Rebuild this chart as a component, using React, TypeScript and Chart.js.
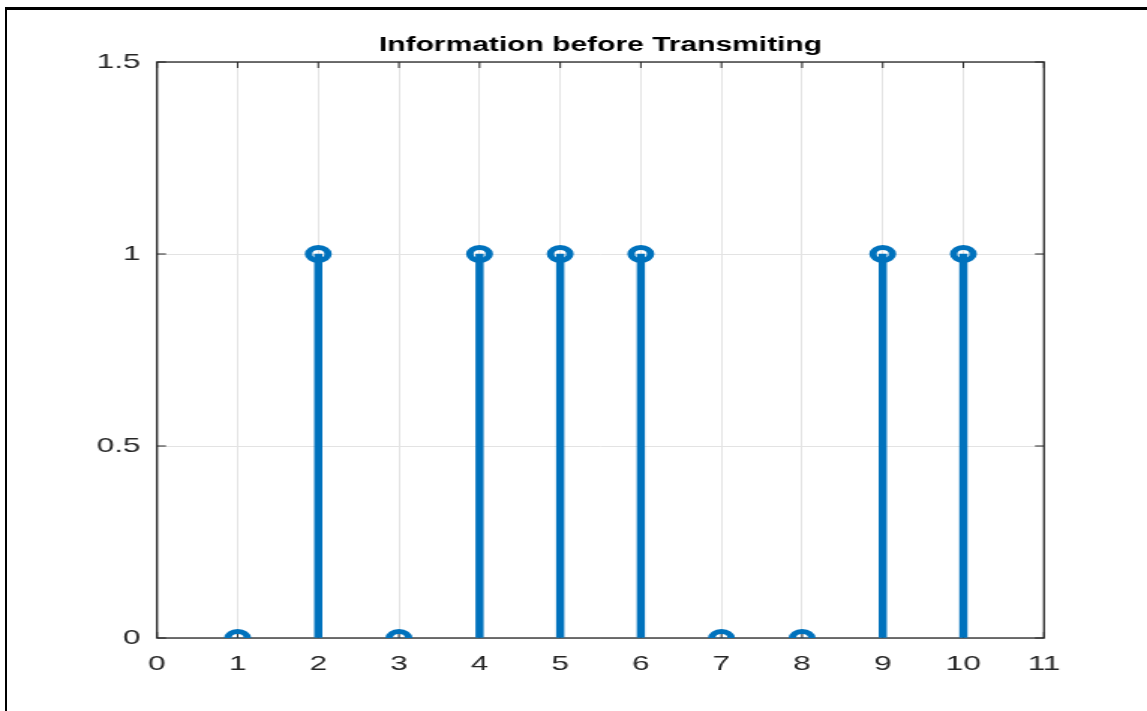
import React, { useEffect, useRef } from 'react';
import { Chart, registerables } from 'chart.js';

Chart.register(...registerables);

// ---- data ----
const sampleIndex = [1, 2, 3, 4, 5, 6, 7, 8, 9, 10];
const bitValues = [0, 1, 0, 1, 1, 1, 0, 0, 1, 1];
const xTickValues = [0, 1, 2, 3, 4, 5, 6, 7, 8, 9, 10, 11];
const xTickLabels = ['0', '1', '2', '3', '4', '5', '6', '7', '8', '9', '10', '11'];
const yTickValues = [0, 0.5, 1, 1.5];
const yTickLabels = ['0', '0.5', '1', '1.5'];
const titleText = 'Information before Transmiting';

// ---- layout ----
const CANVAS_W = 765;
const CANVAS_H = 711;
const STRETCH = 1147 / CANVAS_W;
const FONT = '"Liberation Sans", Arial, Helvetica, sans-serif';
const STEM_COLOR = '#0072BD';
const AXIS_COLOR = '#262626';

const boxPlugin = {
  id: 'matlabBox',
  beforeDatasetsDraw(chart: any) {
    const { ctx, chartArea: a, scales } = chart;
    ctx.save();
    ctx.strokeStyle = AXIS_COLOR;
    ctx.lineWidth = 1;
    ctx.beginPath();
    scales.x.ticks.forEach((t: any) => {
      const px = scales.x.getPixelForValue(t.value);
      ctx.moveTo(px, a.bottom);
      ctx.lineTo(px, a.bottom - 6);
      ctx.moveTo(px, a.top);
      ctx.lineTo(px, a.top + 6);
    });
    scales.y.ticks.forEach((t: any) => {
      const py = scales.y.getPixelForValue(t.value);
      ctx.moveTo(a.left, py);
      ctx.lineTo(a.left + 6, py);
      ctx.moveTo(a.right, py);
      ctx.lineTo(a.right - 6, py);
    });
    ctx.stroke();
    ctx.lineWidth = 1.3;
    ctx.strokeRect(a.left, a.top, a.right - a.left, a.bottom - a.top);
    ctx.restore();
  },
};

export default function App() {
  const canvasRef = useRef<HTMLCanvasElement | null>(null);

  useEffect(() => {
    if (!canvasRef.current) return;
    const points = sampleIndex.map((x, i) => ({ x, y: bitValues[i] }));
    const chart = new Chart(canvasRef.current, {
      type: 'scatter',
      data: {
        datasets: [
          {
            type: 'scatter',
            data: points,
            order: 0,
            pointStyle: 'circle',
            pointRadius: 6.5,
            pointBorderWidth: 5,
            pointBorderColor: STEM_COLOR,
            pointBackgroundColor: 'rgba(0,0,0,0)',
            pointHoverRadius: 6.5,
          } as any,
          {
            type: 'bar',
            data: points,
            order: 1,
            backgroundColor: STEM_COLOR,
            borderWidth: 0,
            barThickness: 4.8,
          } as any,
        ],
      },
      plugins: [boxPlugin],
      options: {
        animation: false,
        responsive: false,
        devicePixelRatio: 1,
        layout: { padding: { left: 0, right: CANVAS_W - 1044 / STRETCH, top: 0, bottom: 0 } },
        plugins: {
          legend: { display: false },
          tooltip: { enabled: false },
          title: {
            display: true,
            text: titleText,
            fullSize: false,
            color: '#000000',
            font: { family: FONT, size: 20, weight: 'bold', lineHeight: 1.2 },
            padding: { top: 33, bottom: 5 },
          },
        },
        scales: {
          x: {
            type: 'linear',
            min: 0,
            max: 11,
            offset: false,
            afterBuildTicks: (scale: any) => {
              scale.ticks = xTickValues.map((v) => ({ value: v }));
            },
            afterFit: (scale: any) => {
              scale.height = CANVAS_H - 638;
            },
            ticks: {
              autoSkip: false,
              maxRotation: 0,
              padding: 14,
              color: AXIS_COLOR,
              font: { family: FONT, size: 21 },
              callback: (v: any) => {
                const i = xTickValues.indexOf(Number(v));
                return i >= 0 ? xTickLabels[i] : '';
              },
            },
            grid: { color: '#e3e3e3', lineWidth: 1, drawTicks: false, offset: false },
            border: { display: false },
          },
          y: {
            type: 'linear',
            min: 0,
            max: 1.5,
            afterBuildTicks: (scale: any) => {
              scale.ticks = yTickValues.map((v) => ({ value: v }));
            },
            afterFit: (scale: any) => {
              scale.width = 157 / STRETCH;
            },
            ticks: {
              padding: 11,
              color: AXIS_COLOR,
              font: { family: FONT, size: 21 },
              callback: (v: any) => {
                const i = yTickValues.indexOf(Number(v));
                return i >= 0 ? yTickLabels[i] : '';
              },
            },
            grid: { color: '#e3e3e3', lineWidth: 1, drawTicks: false },
            border: { display: false },
          },
        },
      } as any,
    });
    return () => chart.destroy();
  }, []);

  return (
    <div style={{ position: 'absolute', left: 0, top: 0, width: 1147, height: 711, overflow: 'hidden', background: '#ffffff' }}>
      <div
        style={{
          position: 'absolute',
          left: 0,
          top: 0,
          width: CANVAS_W,
          height: CANVAS_H,
          transform: `scaleX(${STRETCH})`,
          transformOrigin: '0 0',
        }}
      >
        <canvas ref={canvasRef} width={CANVAS_W} height={CANVAS_H} style={{ display: 'block' }} />
      </div>
      <div
        style={{
          position: 'absolute',
          left: 5,
          top: 7,
          width: 1160,
          height: 720,
          borderTop: '3px solid #000',
          borderLeft: '2px solid #000',
          boxSizing: 'border-box',
        }}
      />
    </div>
  );
}
